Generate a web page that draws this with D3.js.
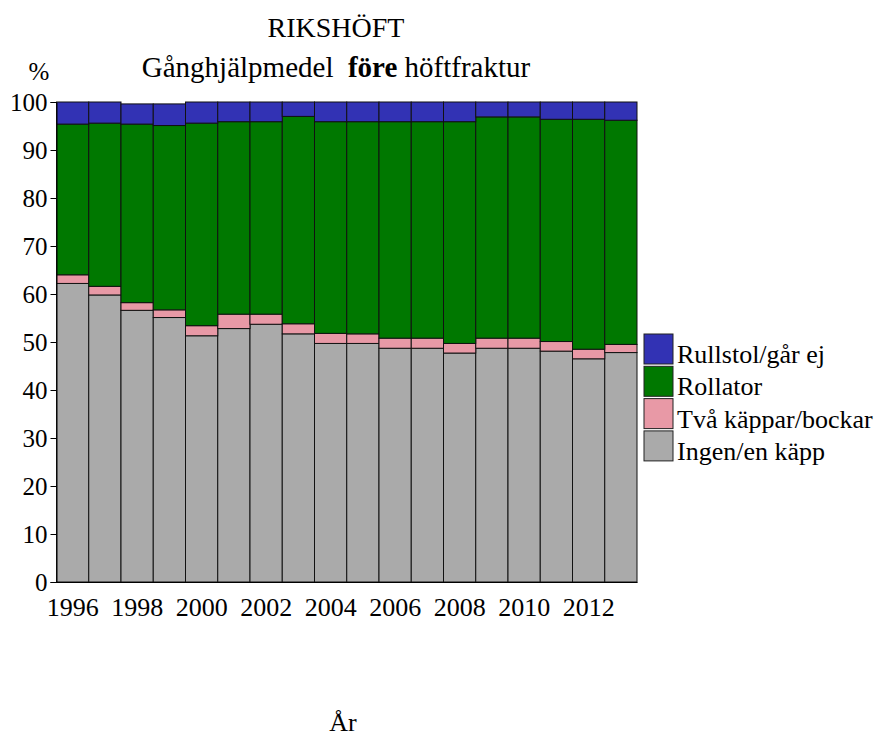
<!DOCTYPE html>
<html>
<head>
<meta charset="utf-8">
<script src="https://cdn.jsdelivr.net/npm/d3@7"></script>
<style>
  body { margin: 0; background: #fff; }
  svg text { font-family: "Liberation Serif", "Times New Roman", serif; }
</style>
</head>
<body>
<svg width="878" height="738"></svg>
<script>
var years = ["1996", "1997", "1998", "1999", "2000", "2001", "2002", "2003", "2004",
             "2005", "2006", "2007", "2008", "2009", "2010", "2011", "2012", "2013"];
var xLabels = ["1996", "1998", "2000", "2002", "2004", "2006", "2008", "2010", "2012"];
var yTicks = [0, 10, 20, 30, 40, 50, 60, 70, 80, 90, 100];

// percent per category, bottom to top
var ingen = [62.2, 59.8, 56.6, 55.1, 51.3, 52.8, 53.7, 51.7, 49.7,
             49.7, 48.7, 48.7, 47.7, 48.7, 48.7, 48.1, 46.5, 47.8];
var tvaKappar = [1.8, 1.8, 1.6, 1.6, 2.1, 3.0, 2.1, 2.1, 2.1,
                 2.0, 2.1, 2.1, 2.0, 2.1, 2.1, 2.0, 2.0, 1.7];
var rollator = [31.4, 34.0, 37.2, 38.4, 42.2, 40.1, 40.1, 43.2, 44.1,
                44.2, 45.1, 45.1, 46.2, 46.1, 46.1, 46.3, 47.9, 46.7];
var rullstol = [4.6, 4.4, 4.2, 4.5, 4.4, 4.1, 4.1, 3.0, 4.1,
                4.1, 4.1, 4.1, 4.1, 3.1, 3.1, 3.6, 3.6, 3.8];

var seriesNames = ["Ingen/en käpp", "Två käppar/bockar", "Rollator", "Rullstol/går ej"];
var colors = ["#aaaaaa", "#e899a6", "#007800", "#3232b4"];

var rows = years.map(function(y, i) {
    return {year: y, s0: ingen[i], s1: tvaKappar[i], s2: rollator[i], s3: rullstol[i]};
});

var svg = d3.select("svg");
var plotLeft = 56.5, plotRight = 637, plotTop = 102, plotBottom = 582;

var x = d3.scaleBand().domain(years).range([plotLeft, plotRight]).paddingInner(0).paddingOuter(0);
var y = d3.scaleLinear().domain([0, 100]).range([plotBottom, plotTop]);

var layers = d3.stack().keys(["s0", "s1", "s2", "s3"])(rows);

svg.append("g")
    .selectAll("g")
    .data(layers)
    .enter()
    .append("g")
    .attr("fill", function(d, i) { return colors[i]; })
    .selectAll("rect")
    .data(function(d) { return d; })
    .enter()
    .append("rect")
    .attr("x", function(d) { return x(d.data.year); })
    .attr("y", function(d) { return y(d[1]); })
    .attr("width", x.bandwidth())
    .attr("height", function(d) { return y(d[0]) - y(d[1]); })
    .attr("stroke", "#111")
    .attr("stroke-width", 1);

// y axis
var yAxis = svg.append("g")
    .attr("transform", "translate(" + plotLeft + ",0)")
    .call(d3.axisLeft(y).tickValues(yTicks).tickSize(6).tickPadding(3));
yAxis.select(".domain").attr("stroke", "#000");
yAxis.selectAll("text")
    .attr("font-size", 25)
    .attr("fill", "#000");

// x axis
var xAxis = svg.append("g")
    .attr("transform", "translate(0," + plotBottom + ")")
    .call(d3.axisBottom(x).tickValues(xLabels).tickSize(0).tickPadding(16));
xAxis.select(".domain").attr("stroke", "#000");
xAxis.selectAll("text")
    .attr("font-size", 26)
    .attr("fill", "#000");

// titles
svg.append("text")
    .attr("x", 336).attr("y", 37)
    .attr("text-anchor", "middle")
    .attr("font-size", 28)
    .text("RIKSHÖFT");

var sub = svg.append("text")
    .attr("x", 336).attr("y", 77)
    .attr("text-anchor", "middle")
    .attr("font-size", 29)
    .attr("xml:space", "preserve");
sub.append("tspan").text("Gånghjälpmedel  ");
sub.append("tspan").attr("font-weight", "bold").text("före");
sub.append("tspan").text(" höftfraktur");

svg.append("text")
    .attr("x", 39).attr("y", 80)
    .attr("text-anchor", "middle")
    .attr("font-size", 25)
    .text("%");

svg.append("text")
    .attr("x", 343).attr("y", 731)
    .attr("text-anchor", "middle")
    .attr("font-size", 26)
    .text("År");

// legend, top entry is the top series
var legend = svg.append("g");
[3, 2, 1, 0].forEach(function(k, i) {
    var ly = 334 + i * 32.3;
    legend.append("rect")
        .attr("x", 644).attr("y", ly)
        .attr("width", 29).attr("height", 30)
        .attr("fill", colors[k])
        .attr("stroke", "#222");
    legend.append("text")
        .attr("x", 677).attr("y", ly + 29)
        .attr("font-size", 26)
        .text(seriesNames[k]);
});
</script>
</body>
</html>
